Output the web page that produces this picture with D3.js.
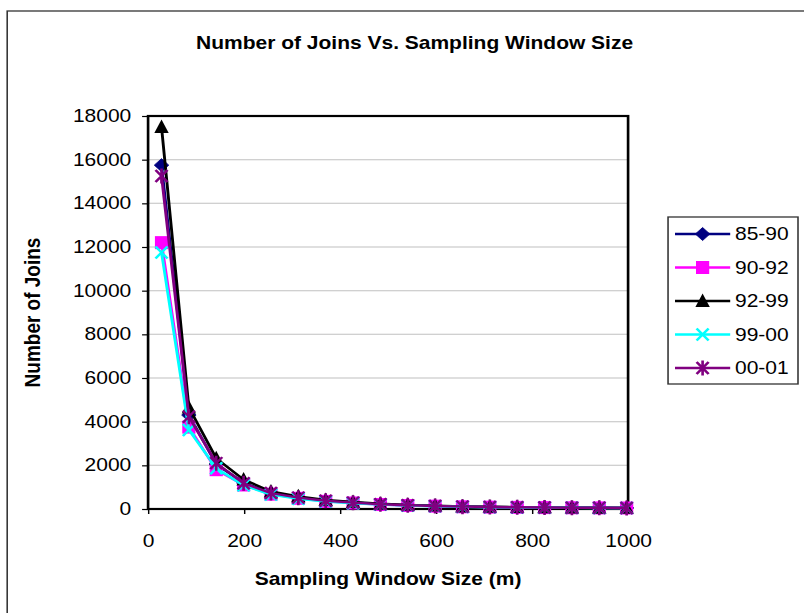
<!DOCTYPE html>
<html>
<head>
<meta charset="utf-8">
<script src="https://cdn.jsdelivr.net/npm/d3@7"></script>
<style>
  html, body { margin: 0; padding: 0; background: #fff; }
  svg { display: block; }
  text { font-family: Arial, "Liberation Sans", sans-serif; fill: #000; }
</style>
</head>
<body>
<svg id="chart" width="804" height="613"></svg>
<script>
// Sampling window sizes (m)
const windowSizes = [28, 85, 142, 199, 256, 313, 370, 427, 484, 541, 598, 655, 712, 769, 826, 883, 940, 997];

// Number of joins per period
const joins8590 = [15750, 4300, 2050, 1200, 740, 530, 380, 295, 220, 175, 142, 110, 92, 80, 70, 60, 55, 50];
const joins9092 = [12200, 3750, 1800, 1100, 680, 490, 350, 275, 205, 160, 130, 100, 85, 74, 64, 56, 50, 45];
const joins9299 = [17500, 4650, 2320, 1350, 800, 580, 410, 320, 240, 190, 155, 120, 100, 86, 76, 66, 60, 54];
const joins9900 = [11750, 3620, 1870, 1080, 660, 470, 340, 265, 200, 155, 125, 96, 82, 71, 62, 54, 49, 44];
const joins0001 = [15250, 4230, 2100, 1180, 730, 520, 375, 290, 215, 172, 140, 108, 90, 78, 68, 59, 54, 49];

const seriesNames = ["85-90", "90-92", "92-99", "99-00", "00-01"];
const seriesColors = ["#000080", "#FF00FF", "#000000", "#00FFFF", "#800080"];
const seriesMarkers = ["diamond", "square", "triangle", "cross", "star"];
const seriesValues = [joins8590, joins9092, joins9299, joins9900, joins0001];

const xTicks = [0, 200, 400, 600, 800, 1000];
const yTicks = [0, 2000, 4000, 6000, 8000, 10000, 12000, 14000, 16000, 18000];

const chartTitle = "Number of Joins Vs. Sampling Window Size";
const xTitle = "Sampling Window Size (m)";
const yTitle = "Number of Joins";

// The chart is laid out in a narrower frame and stretched horizontally.
const SX = 1.2;
const svg = d3.select("#chart");
const root = svg.append("g").attr("transform", `scale(${SX},1)`);

// Outer chart frame (runs off the right and bottom edges)
root.append("rect")
  .attr("x", 6).attr("y", 11)
  .attr("width", 700).attr("height", 700)
  .attr("fill", "#fff")
  .attr("stroke", "#333").attr("stroke-width", 1.3);

const plot = { left: 123.4, right: 523.4, top: 116, bottom: 509 };

const x = d3.scaleLinear().domain([0, 1000]).range([plot.left, plot.right]);
const y = d3.scaleLinear().domain([0, 18000]).range([plot.bottom, plot.top]);

// Title
root.append("text")
  .attr("x", 345.5).attr("y", 49)
  .attr("text-anchor", "middle")
  .attr("font-size", 17.5).attr("font-weight", "bold")
  .text(chartTitle);

// Gridlines
root.append("g")
  .selectAll("line")
  .data(yTicks.filter(v => v > 0 && v < 18000))
  .join("line")
  .attr("x1", plot.left).attr("x2", plot.right)
  .attr("y1", d => y(d)).attr("y2", d => y(d))
  .attr("stroke", "#c0c0c0").attr("stroke-width", 1);

// Axes
const yAxis = root.append("g")
  .attr("transform", `translate(${plot.left},0)`)
  .call(d3.axisLeft(y).tickValues(yTicks).tickSize(5).tickPadding(9).tickFormat(d3.format("d")));
const xAxis = root.append("g")
  .attr("transform", `translate(0,${plot.bottom})`)
  .call(d3.axisBottom(x).tickValues(xTicks).tickSize(5).tickPadding(21).tickFormat(d3.format("d")));

[yAxis, xAxis].forEach(ax => {
  ax.select(".domain").remove();
  ax.selectAll(".tick line").attr("stroke", "#000").attr("stroke-width", 1.2);
  ax.selectAll(".tick text")
    .attr("font-size", 17.5)
    .attr("font-family", "Arial, 'Liberation Sans', sans-serif")
    .attr("fill", "#000");
});

// Plot frame
root.append("rect")
  .attr("x", plot.left).attr("y", plot.top)
  .attr("width", plot.right - plot.left).attr("height", plot.bottom - plot.top)
  .attr("fill", "none").attr("stroke", "#000").attr("stroke-width", 2.2);

// Axis titles
root.append("text")
  .attr("x", (plot.left + plot.right) / 2).attr("y", 585)
  .attr("text-anchor", "middle")
  .attr("font-size", 17.5).attr("font-weight", "bold")
  .text(xTitle);

root.append("text")
  .attr("transform", `translate(33.5,${(plot.top + plot.bottom) / 2}) rotate(-90)`)
  .attr("text-anchor", "middle")
  .attr("font-size", 19).attr("font-weight", "bold")
  .text(yTitle);

// Marker shapes
function drawMarker(g, type, color) {
  if (type === "diamond") {
    g.append("path").attr("d", "M0,-6.5L6,0L0,6.5L-6,0Z").attr("fill", color).attr("stroke", color).attr("stroke-width", 0.8);
  } else if (type === "square") {
    g.append("rect").attr("x", -5.5).attr("y", -6.5).attr("width", 11).attr("height", 13).attr("fill", color);
  } else if (type === "triangle") {
    g.append("path").attr("d", "M0,-7.5L6,6L-6,6Z").attr("fill", color);
  } else if (type === "cross") {
    g.append("path").attr("d", "M-5,-6L5,6M-5,6L5,-6").attr("stroke", color).attr("stroke-width", 2.2).attr("fill", "none");
  } else if (type === "star") {
    g.append("path").attr("d", "M-5,-6L5,6M-5,6L5,-6M0,-7.5L0,7.5").attr("stroke", color).attr("stroke-width", 2.2).attr("fill", "none");
  }
}

const line = d3.line().x(d => x(d[0])).y(d => y(d[1]));

seriesNames.forEach((name, i) => {
  const pts = windowSizes.map((w, j) => [w, seriesValues[i][j]]);
  const g = root.append("g");
  g.append("path")
    .datum(pts)
    .attr("d", line)
    .attr("fill", "none")
    .attr("stroke", seriesColors[i])
    .attr("stroke-width", 2.4)
    .attr("stroke-linejoin", "round");
  g.selectAll("g.mk")
    .data(pts)
    .join("g")
    .attr("class", "mk")
    .attr("transform", d => `translate(${x(d[0])},${y(d[1])})`)
    .each(function () { drawMarker(d3.select(this), seriesMarkers[i], seriesColors[i]); });
});

// Legend
const legend = root.append("g");
const lg = { left: 556.7, right: 665, top: 217, rowStart: 234, rowStep: 33.5 };
legend.append("rect")
  .attr("x", lg.left).attr("y", lg.top)
  .attr("width", lg.right - lg.left).attr("height", 384 - lg.top)
  .attr("fill", "#fff").attr("stroke", "#333").attr("stroke-width", 1.3);

seriesNames.forEach((name, i) => {
  const cy = lg.rowStart + i * lg.rowStep;
  const row = legend.append("g");
  row.append("line")
    .attr("x1", 562.5).attr("x2", 608.5)
    .attr("y1", cy).attr("y2", cy)
    .attr("stroke", seriesColors[i]).attr("stroke-width", 2.4);
  const mk = row.append("g").attr("transform", `translate(585.5,${cy})`);
  drawMarker(mk, seriesMarkers[i], seriesColors[i]);
  row.append("text")
    .attr("x", 612.5).attr("y", cy)
    .attr("dy", "0.36em")
    .attr("font-size", 17.5)
    .text(name);
});
</script>
</body>
</html>
